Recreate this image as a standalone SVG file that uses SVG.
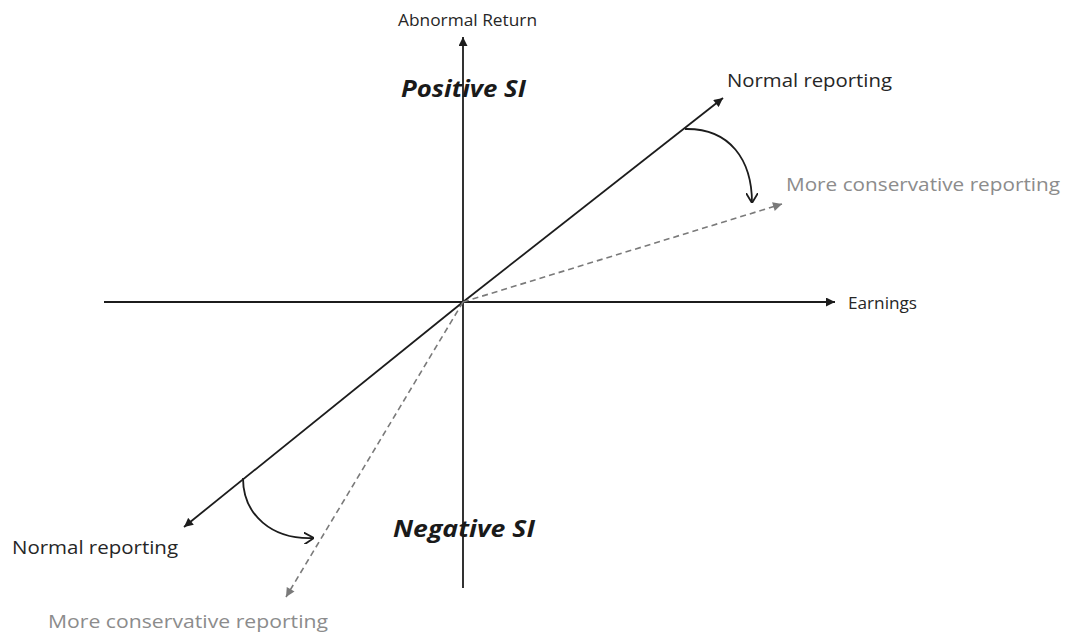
<svg xmlns="http://www.w3.org/2000/svg" width="1065" height="634" viewBox="0 0 1065 634">
<style>
.ax{stroke:#1c1c1c;stroke-width:1.8;fill:none}
.ds{stroke:#7a7a7a;stroke-width:1.6;fill:none;stroke-dasharray:6 4}
.arc{stroke:#1c1c1c;stroke-width:1.8;fill:none}
.t{font-family:"Open Sans","Liberation Sans",sans-serif;fill:#262626}
.g{font-family:"Open Sans","Liberation Sans",sans-serif;fill:#8c8c8c}
.b{font-family:"Open Sans","Liberation Sans",sans-serif;font-weight:bold;font-style:italic;fill:#1a1a1a}
</style>
<defs>
<marker id="ah" viewBox="0 0 10 10" refX="10" refY="5" markerWidth="11" markerHeight="9" markerUnits="userSpaceOnUse" orient="auto">
<path d="M0,0 L10,5 L0,10 z" fill="#1c1c1c"/>
</marker>
<marker id="ag" viewBox="0 0 10 10" refX="10" refY="5" markerWidth="11" markerHeight="9" markerUnits="userSpaceOnUse" orient="auto">
<path d="M0,0 L10,5 L0,10 z" fill="#7a7a7a"/>
</marker>
<marker id="ao" viewBox="0 0 10 12" refX="10" refY="6" markerWidth="10" markerHeight="12" markerUnits="userSpaceOnUse" orient="auto">
<path d="M0,0 L10,6 L0,12" fill="none" stroke="#1c1c1c" stroke-width="1.8"/>
</marker>
</defs>
<rect width="1065" height="634" fill="#ffffff"/>
<g id="connectors">
<line class="ax" x1="104" y1="302" x2="835" y2="302" marker-end="url(#ah)"/>
<line class="ax" x1="463" y1="588" x2="463" y2="37" marker-end="url(#ah)"/>
<line class="ax" x1="463" y1="302" x2="723" y2="98" marker-end="url(#ah)"/>
<line class="ax" x1="463" y1="302" x2="184" y2="527" marker-end="url(#ah)"/>
<line class="ds" x1="463" y1="302" x2="782" y2="204" marker-end="url(#ag)"/>
<line class="ds" x1="463" y1="302" x2="286" y2="597" marker-end="url(#ag)"/>
<path class="arc" d="M685,129 C730,128 752,160 752,203" marker-end="url(#ao)"/>
<path class="arc" d="M243,478 C243,515 272,540 314,538" marker-end="url(#ao)"/>
</g>
<g id="label-abnormal-return"><text class="t" x="398" y="26" font-size="17" textLength="139" lengthAdjust="spacingAndGlyphs">Abnormal Return</text></g>
<g id="label-earnings"><text class="t" x="848" y="309" font-size="16" textLength="69" lengthAdjust="spacingAndGlyphs">Earnings</text></g>
<g id="label-positive-si"><text class="b" x="401" y="97" font-size="23" textLength="125" lengthAdjust="spacingAndGlyphs">Positive SI</text></g>
<g id="label-negative-si"><text class="b" x="393" y="537" font-size="23" textLength="142" lengthAdjust="spacingAndGlyphs">Negative SI</text></g>
<g id="label-normal-upper"><text class="t" x="727" y="87" font-size="18" textLength="165" lengthAdjust="spacingAndGlyphs">Normal reporting</text></g>
<g id="label-conservative-upper"><text class="g" x="786" y="191" font-size="18" textLength="274" lengthAdjust="spacingAndGlyphs">More conservative reporting</text></g>
<g id="label-normal-lower"><text class="t" x="12" y="554" font-size="18" textLength="166" lengthAdjust="spacingAndGlyphs">Normal reporting</text></g>
<g id="label-conservative-lower"><text class="g" x="48" y="628" font-size="18" textLength="280" lengthAdjust="spacingAndGlyphs">More conservative reporting</text></g>
</svg>
